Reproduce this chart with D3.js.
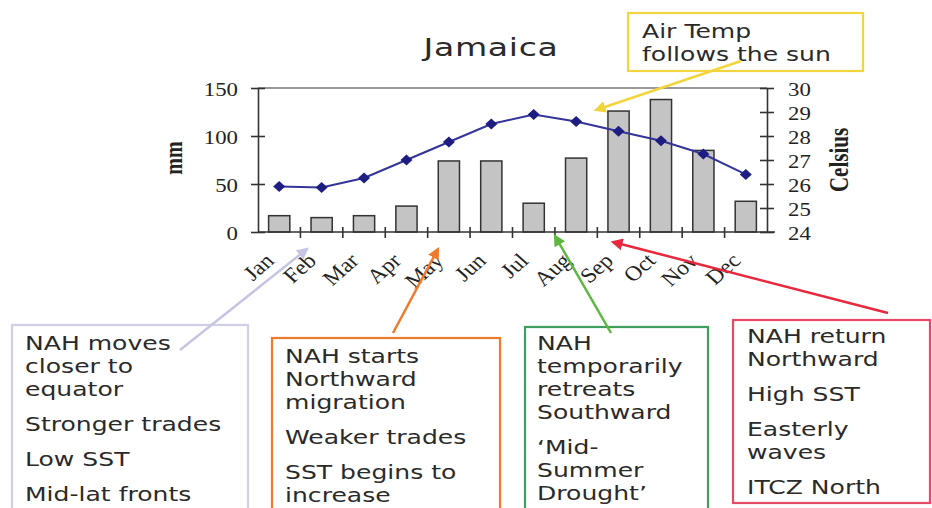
<!DOCTYPE html>
<html>
<head>
<meta charset="utf-8">
<script src="https://cdn.jsdelivr.net/npm/d3@7"></script>
<style>
  body { margin: 0; background: #fff; }
  .note { font-family: "DejaVu Sans", Verdana, sans-serif; font-size: 19px; fill: #2a2a2a; }
  .serif { font-family: "Liberation Serif", "Times New Roman", serif; fill: #222; }
</style>
</head>
<body>
<svg id="chart" width="932" height="508"></svg>
<script>
// monthly climatology, Jamaica
const months = ["Jan", "Feb", "Mar", "Apr", "May", "Jun", "Jul", "Aug", "Sep", "Oct", "Nov", "Dec"];
const rainfall = [17, 15, 17, 27, 74, 74, 30, 77, 126, 138, 85, 32];           // mm
const airTemp = [25.9, 25.85, 26.25, 27.0, 27.75, 28.5, 28.9, 28.6, 28.2, 27.8, 27.25, 26.4]; // Celsius
const mmTicks = [0, 50, 100, 150];
const celsiusTicks = [24, 25, 26, 27, 28, 29, 30];

// annotation texts (paragraphs of wrapped lines)
const noteSun = [["Air Temp", "follows the sun"]];
const noteWinter = [["NAH moves", "closer to", "equator"], ["Stronger trades"], ["Low SST"], ["Mid-lat fronts"]];
const noteSpring = [["NAH starts", "Northward", "migration"], ["Weaker trades"], ["SST begins to", "increase"]];
const noteMidsummer = [["NAH", "temporarily", "retreats", "Southward"], ["\u2018Mid-", "Summer", "Drought\u2019"]];
const noteAutumn = [["NAH return", "Northward"], ["High SST"], ["Easterly", "waves"], ["ITCZ North"]];

const svg = d3.select("#chart");
const plotLeft = 258, plotRight = 767, plotTop = 88, plotBottom = 232;
const sx = 1.32; // the source picture is stretched sideways

const xScale = d3.scaleBand().domain(months).range([plotLeft, plotRight]).paddingInner(0.5).paddingOuter(0.25);
const step = xScale.step();
const yRain = d3.scaleLinear().domain([0, 150]).range([plotBottom, plotTop]);
const yTemp = d3.scaleLinear().domain([24, 30]).range([plotBottom, plotTop]);

function wideText(g, x, y, str, k, cls) {
  return g.append("text").attr("class", cls)
    .attr("transform", `translate(${x},${y}) scale(${k},1)`)
    .text(str);
}

// title
wideText(svg, 491, 56, "Jamaica", 1.38, "note")
  .attr("text-anchor", "middle").style("font-size", "24px").style("letter-spacing", "0.5px");

// frame top
svg.append("line").attr("x1", plotLeft).attr("x2", plotRight).attr("y1", plotTop).attr("y2", plotTop)
  .attr("stroke", "#777").attr("stroke-width", 1.5);

// bars
svg.selectAll("rect.bar")
  .data(months)
  .enter()
  .append("rect")
  .attr("class", "bar")
  .attr("x", d => xScale(d))
  .attr("y", (d, i) => yRain(rainfall[i]))
  .attr("width", xScale.bandwidth())
  .attr("height", (d, i) => plotBottom - yRain(rainfall[i]))
  .attr("fill", "#c4c4c4")
  .attr("stroke", "#333")
  .attr("stroke-width", 1.5);

// left axis
const yAxisL = svg.append("g").attr("transform", `translate(${plotLeft},0)`)
  .call(d3.axisLeft(yRain).tickValues(mmTicks).tickSizeInner(7).tickSizeOuter(0));
yAxisL.selectAll(".tick line").attr("x1", 7);
yAxisL.selectAll("text").remove();
yAxisL.selectAll(".tick").each(function (d) {
  wideText(d3.select(this), -20, 7, d, 1.2, "serif").attr("text-anchor", "end").style("font-size", "19px");
});

// right axis
const yAxisR = svg.append("g").attr("transform", `translate(${plotRight},0)`)
  .call(d3.axisRight(yTemp).tickValues(celsiusTicks).tickSizeInner(7).tickSizeOuter(0));
yAxisR.selectAll(".tick line").attr("x1", -7);
yAxisR.selectAll("text").remove();
yAxisR.selectAll(".tick").each(function (d) {
  wideText(d3.select(this), 21, 7, d, 1.2, "serif").style("font-size", "19px");
});

// bottom axis with ticks between months
const xAxis = svg.append("g");
xAxis.append("line").attr("x1", plotLeft).attr("x2", plotRight + 8).attr("y1", plotBottom).attr("y2", plotBottom);
xAxis.selectAll("line.tk")
  .data(months.slice(1))
  .enter()
  .append("line")
  .attr("class", "tk")
  .attr("x1", d => xScale(d) - step * 0.25)
  .attr("x2", d => xScale(d) - step * 0.25)
  .attr("y1", plotBottom - 5)
  .attr("y2", plotBottom + 6);
xAxis.selectAll("text")
  .data(months)
  .enter()
  .append("text")
  .attr("class", "serif")
  .attr("text-anchor", "end")
  .style("font-size", "21px")
  .attr("transform", d => `translate(${xScale(d) + xScale.bandwidth() / 2 - 4},${plotBottom + 30}) scale(1.12,1) rotate(-45)`)
  .text(d => d);

[yAxisL, yAxisR, xAxis].forEach(g => {
  g.selectAll("path, line").attr("stroke", "#333").attr("stroke-width", 1.6);
});

// axis titles
svg.append("text").attr("class", "serif")
  .attr("transform", `translate(182,158) scale(1.3,1) rotate(-90)`)
  .attr("text-anchor", "middle")
  .style("font-size", "20px").style("font-weight", "bold")
  .text("mm");
svg.append("text").attr("class", "serif")
  .attr("transform", `translate(848,160) scale(1.3,1) rotate(-90)`)
  .attr("text-anchor", "middle")
  .style("font-size", "21px").style("font-weight", "bold")
  .text("Celsius");

// air temperature line
const line = d3.line()
  .x((d, i) => xScale(months[i]) + xScale.bandwidth() / 2)
  .y(d => yTemp(d));
svg.append("path")
  .datum(airTemp)
  .attr("d", line)
  .attr("fill", "none")
  .attr("stroke", "#34349a")
  .attr("stroke-width", 2);
svg.selectAll("path.dot")
  .data(airTemp)
  .enter()
  .append("path")
  .attr("class", "dot")
  .attr("d", "M0,-5.5L6,0L0,5.5L-6,0Z")
  .attr("transform", (d, i) => `translate(${xScale(months[i]) + xScale.bandwidth() / 2},${yTemp(d)})`)
  .attr("fill", "#1e1e82");

// annotation boxes and arrows
const defs = svg.append("defs");
function arrow(name, color, x1, y1, x2, y2) {
  defs.append("marker")
    .attr("id", "head-" + name)
    .attr("viewBox", "0 0 10 10")
    .attr("refX", 8).attr("refY", 5)
    .attr("markerWidth", 12).attr("markerHeight", 12)
    .attr("markerUnits", "userSpaceOnUse")
    .attr("orient", "auto")
    .append("path").attr("d", "M0,0L10,5L0,10Z").attr("fill", color);
  svg.append("line")
    .attr("x1", x1).attr("y1", y1).attr("x2", x2).attr("y2", y2)
    .attr("stroke", color).attr("stroke-width", 2.5)
    .attr("marker-end", `url(#head-${name})`);
}

function noteBox(paras, color, bx, by, bw, bh, tx, ty) {
  svg.append("rect").attr("x", bx).attr("y", by).attr("width", bw).attr("height", bh)
    .attr("fill", "#fff").attr("stroke", color).attr("stroke-width", 2.2);
  let y = ty;
  paras.forEach((lines, p) => {
    if (p > 0) y += 35 - 23;
    lines.forEach(l => {
      wideText(svg, tx, y, l, sx, "note");
      y += 23;
    });
  });
}

noteBox(noteSun, "#f2d43c", 628, 13, 235, 58, 642, 38);
noteBox(noteWinter, "#cfcfe6", 12, 325, 236, 200, 25, 350);
noteBox(noteSpring, "#f07a2c", 272, 338, 228, 190, 285, 363);
noteBox(noteMidsummer, "#3f9f5e", 525, 327, 183, 200, 537, 350);
noteBox(noteAutumn, "#e64a66", 733, 320, 197, 183, 747, 343);

arrow("sun", "#f2d43c", 741, 61, 596, 110);
arrow("winter", "#c6c6e4", 180, 350, 307, 249);
arrow("spring", "#f07a2c", 393, 333, 438, 249);
arrow("mid", "#5cb83e", 611, 333, 555, 236);
arrow("autumn", "#e8283c", 888, 313, 613, 242);
</script>
</body>
</html>
